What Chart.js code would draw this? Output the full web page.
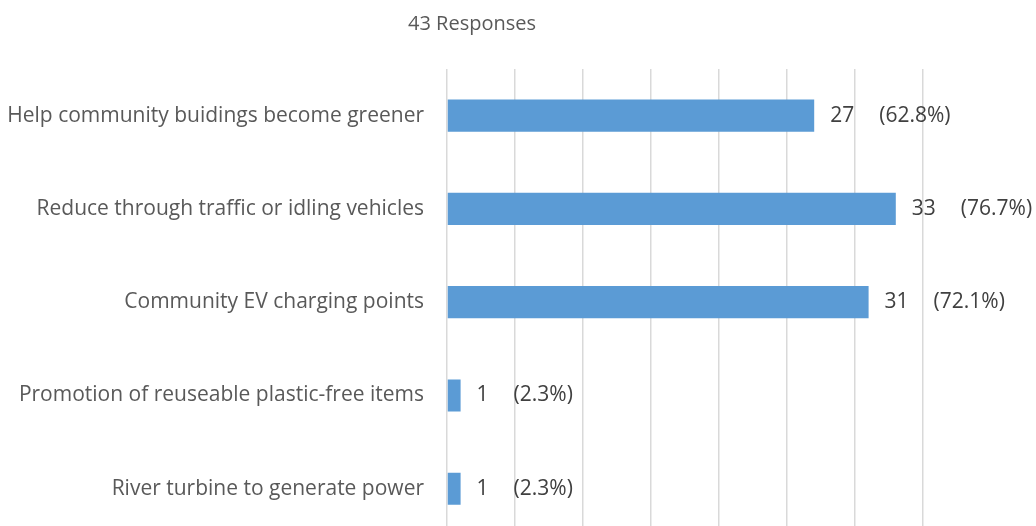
<!DOCTYPE html>
<html>
<head>
<meta charset="utf-8">
<script src="https://cdn.jsdelivr.net/npm/chart.js@4/dist/chart.umd.min.js"></script>
<style>
  html, body { margin: 0; padding: 0; background: #fff; overflow: hidden; }
</style>
</head>
<body>
<canvas id="chart" width="1036" height="571"></canvas>
<script>
  var categories = [
    "Help community buidings become greener",
    "Reduce through traffic or idling vehicles",
    "Community EV charging points",
    "Promotion of reuseable plastic-free items",
    "River turbine to generate power"
  ];
  var counts = [27, 33, 31, 1, 1];
  var percents = ["62.8%", "76.7%", "72.1%", "2.3%", "2.3%"];
  var titleText = "43 Responses";

  var FONT = "'Open Sans', sans-serif";

  // value labels next to each bar, plus the title
  var labelPlugin = {
    id: "barLabels",
    afterDatasetsDraw: function(chart) {
      var ctx = chart.ctx;
      var meta = chart.getDatasetMeta(0);
      ctx.save();
      ctx.font = "21px " + FONT;
      ctx.fillStyle = "#404040";
      ctx.textBaseline = "middle";
      ctx.textAlign = "left";
      meta.data.forEach(function(bar, i) {
        var x = bar.x + 16;
        var txt = String(counts[i]);
        ctx.fillText(txt, x, bar.y);
        ctx.fillText("(" + percents[i] + ")", x + ctx.measureText(txt).width + 25, bar.y);
      });
      ctx.font = "20px " + FONT;
      ctx.fillStyle = "#595959";
      ctx.textAlign = "center";
      ctx.fillText(titleText, 472, 24);
      ctx.restore();
    }
  };

  new Chart(document.getElementById("chart"), {
    type: "bar",
    data: {
      labels: categories,
      datasets: [{
        data: counts,
        backgroundColor: "#5b9bd5",
        borderWidth: 0,
        barPercentage: 0.69,
        categoryPercentage: 0.5
      }]
    },
    options: {
      indexAxis: "y",
      responsive: false,
      animation: false,
      layout: { padding: { top: 69, right: 113, bottom: 0, left: 0 } },
      plugins: { legend: { display: false }, tooltip: { enabled: false }, title: { display: false } },
      scales: {
        x: {
          min: 0,
          max: 35,
          ticks: { display: false, stepSize: 5 },
          grid: { color: "#d9d9d9", lineWidth: 1.5, drawTicks: false },
          border: { display: false },
          afterFit: function(scale) { scale.height = 0; }
        },
        y: {
          ticks: { color: "#595959", font: { family: FONT, size: 21 }, padding: 23 },
          grid: { display: false, drawTicks: false },
          border: { display: false },
          afterFit: function(scale) { scale.width = 447; }
        }
      }
    },
    plugins: [labelPlugin]
  });
</script>
</body>
</html>
